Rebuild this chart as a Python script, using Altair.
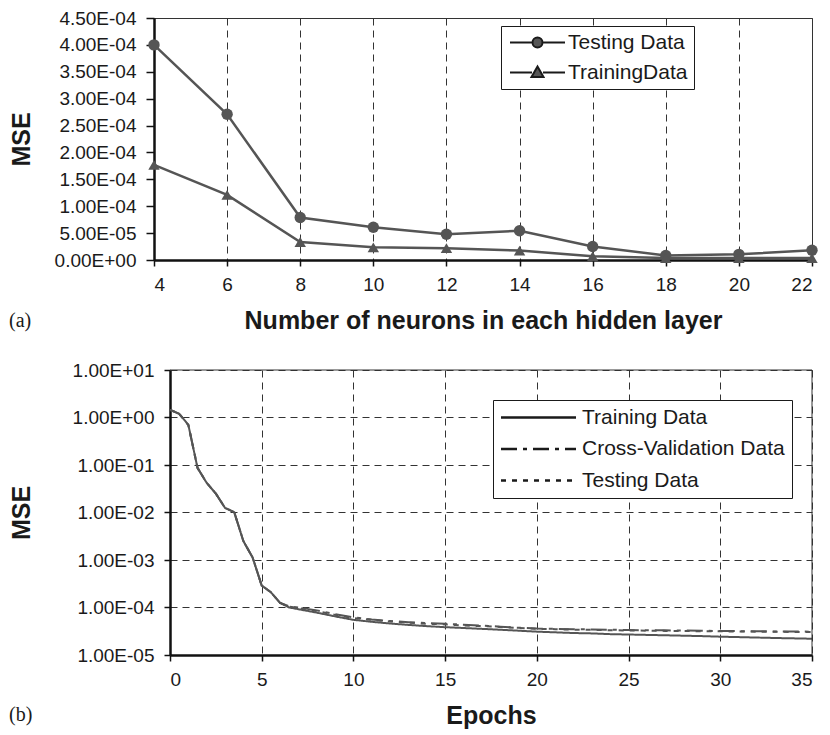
import altair as alt
import pandas as pd

FONT = "Liberation Sans"
LINE = "#555555"
INK = "#1a1a1a"

# ---------------- panel (a) data ----------------
neurons = [4, 6, 8, 10, 12, 14, 16, 18, 20, 22]
testing_mse = [4.0e-4, 2.71e-4, 7.9e-5, 6.1e-5, 4.8e-5, 5.45e-5, 2.5e-5, 8.5e-6, 1.05e-5, 1.8e-5]
training_mse = [1.77e-4, 1.21e-4, 3.35e-5, 2.35e-5, 2.2e-5, 1.75e-5, 7.0e-6, 3.7e-6, 3.5e-6, 3.5e-6]
top_series = ["Testing Data", "TrainingData"]
top_x_ticks = [4, 6, 8, 10, 12, 14, 16, 18, 20, 22]
top_y_ticks = [0, 5e-5, 1e-4, 1.5e-4, 2e-4, 2.5e-4, 3e-4, 3.5e-4, 4e-4, 4.5e-4]

# ---------------- panel (b) data ----------------
epochs = [0, 0.5, 1, 1.5, 2, 2.5, 3, 3.5, 4, 4.5, 5, 5.5, 6, 6.5, 7,
          8, 9, 10, 11, 12, 13, 14, 15, 16, 17, 18, 19, 20, 21, 22, 23, 24, 25,
          26, 27, 28, 29, 30, 31, 32, 33, 34, 35]
train_curve = [1.45, 1.2, 0.70, 0.087, 0.042, 0.025, 0.0125, 0.0102, 0.0025, 0.00114,
               2.9e-4, 2.1e-4, 1.25e-4, 1.0e-4, 9.2e-5,
               7.8e-5, 6.5e-5, 5.5e-5, 5.0e-5, 4.6e-5, 4.3e-5, 4.05e-5, 3.85e-5, 3.7e-5,
               3.55e-5, 3.4e-5, 3.25e-5, 3.1e-5, 3.0e-5, 2.9e-5, 2.85e-5, 2.75e-5, 2.7e-5,
               2.65e-5, 2.6e-5, 2.55e-5, 2.5e-5, 2.43e-5, 2.38e-5, 2.33e-5, 2.28e-5, 2.24e-5, 2.2e-5]
cv_curve = [1.45, 1.2, 0.70, 0.087, 0.042, 0.025, 0.0125, 0.0102, 0.0025, 0.00114,
            2.9e-4, 2.1e-4, 1.25e-4, 1.06e-4, 1.0e-4,
            8.7e-5, 7.2e-5, 6.2e-5, 5.6e-5, 5.2e-5, 4.9e-5, 4.7e-5, 4.55e-5, 4.35e-5,
            4.15e-5, 3.95e-5, 3.75e-5, 3.6e-5, 3.55e-5, 3.5e-5, 3.45e-5, 3.4e-5, 3.35e-5,
            3.32e-5, 3.3e-5, 3.27e-5, 3.24e-5, 3.2e-5, 3.18e-5, 3.16e-5, 3.14e-5, 3.12e-5, 3.1e-5]
test_curve = [1.45, 1.2, 0.70, 0.087, 0.042, 0.025, 0.0125, 0.0102, 0.0025, 0.00114,
              2.9e-4, 2.1e-4, 1.25e-4, 1.04e-4, 9.7e-5,
              8.4e-5, 7.0e-5, 6.0e-5, 5.5e-5, 5.1e-5, 4.8e-5, 4.55e-5, 4.4e-5, 4.2e-5,
              4.05e-5, 3.9e-5, 3.7e-5, 3.55e-5, 3.5e-5, 3.42e-5, 3.38e-5, 3.32e-5, 3.28e-5,
              3.25e-5, 3.22e-5, 3.2e-5, 3.17e-5, 3.15e-5, 3.13e-5, 3.1e-5, 3.08e-5, 3.06e-5, 3.05e-5]
bottom_series = ["Training Data", "Cross-Validation Data", "Testing Data"]
bottom_x_ticks = [0, 5, 10, 15, 20, 25, 30, 35]
bottom_y_ticks = [1e-5, 1e-4, 1e-3, 1e-2, 1e-1, 1e0, 1e1]

panel_labels = ["(a)", "(b)"]

# ---------------- tables ----------------
top_df = pd.DataFrame({
    "neurons": neurons * 2,
    "mse": testing_mse + training_mse,
    "series": [top_series[0]] * len(neurons) + [top_series[1]] * len(neurons),
})
bottom_df = pd.DataFrame({
    "epoch": epochs * 3,
    "mse": train_curve + cv_curve + test_curve,
    "series": sum([[s] * len(epochs) for s in bottom_series], []),
})

E = "floor(log(datum.value)/LN10 + 1e-9)"
SCI = (f"datum.value == 0 ? '0.00E+00' : format(datum.value / pow(10, {E}), '.2f') + 'E' + "
       f"({E} < 0 ? '-' : '+') + format(abs({E}), '02d')")

axis_common = dict(
    labelFont=FONT, labelFontSize=19, labelColor=INK,
    titleFont=FONT, titleFontSize=25, titleFontWeight="bold", titleColor=INK,
    domainColor="#111111", domainWidth=2.5, tickColor="#111111", tickWidth=1.5,
    gridColor="#333333", gridWidth=1, gridDash=[7, 5],
)

legend_common = dict(
    title=None, orient="none", direction="vertical", labelFont=FONT, labelFontSize=21,
    labelColor=INK, labelLimit=400, strokeColor=INK, fillColor="white",
    symbolSize=100, symbolOpacity=1,
)

W = 658

# ---------------- panel (a) ----------------
TOP_H = 242
xa = alt.X("neurons:Q", scale=alt.Scale(domain=[4, 22], nice=False, zero=False),
           axis=alt.Axis(values=top_x_ticks, title="Number of neurons in each hidden layer",
                         grid=True, tickSize=6, labelPadding=9, titlePadding=14, **axis_common))
ya = alt.Y("mse:Q", scale=alt.Scale(domain=[0, 4.5e-4], nice=False),
           axis=alt.Axis(values=top_y_ticks, labelExpr=SCI, grid=False, tickSize=8,
                         labelPadding=10, title="MSE", titleAngle=270, titleX=-132.5,
                         titleY=TOP_H / 2, titleAlign="center", titleBaseline="middle",
                         **axis_common))

circle_path = "M-5.5,0H-1M1,0H5.5M1,0A1,1,0,1,1,-1,0A1,1,0,1,1,1,0Z"
tri_path = "M-5.5,0H-1.1M1.1,0H5.5M0,-1.2L1.2,0.9L-1.2,0.9Z"

top_lines = alt.Chart(top_df).mark_line(color=LINE, strokeWidth=2.5).encode(
    x=xa, y=ya, detail="series:N")
top_points = alt.Chart(top_df).mark_point(filled=True, color=LINE, size=130, opacity=1).encode(
    x=xa, y=ya,
    shape=alt.Shape("series:N", scale=alt.Scale(domain=top_series, range=["circle", "triangle-up"]),
                    legend=None))
top_legend = alt.Chart(top_df).transform_filter("false").mark_point(
    filled=False, fill=LINE, stroke=INK, strokeWidth=2, opacity=1).encode(
    x=xa, y=ya,
    shape=alt.Shape("series:N", scale=alt.Scale(domain=top_series, range=[circle_path, tri_path]),
                    legend=alt.Legend(legendX=347, legendY=8, padding=6, rowPadding=8,
                                      symbolStrokeWidth=2, symbolOffset=20, labelOffset=20,
                                      **legend_common)))
top_tag = alt.Chart(pd.DataFrame({"t": [panel_labels[0]]})).mark_text(
    font="Liberation Serif", fontSize=20, align="left", baseline="middle", color=INK).encode(
    x=alt.value(-145), y=alt.value(303), text="t:N")

top = alt.layer(top_lines, top_points, top_legend, top_tag).resolve_scale(
    shape="independent").properties(width=W, height=TOP_H)

# ---------------- panel (b) ----------------
BOT_H = 285
SHIFT = 16
xb = alt.X("epoch:Q", scale=alt.Scale(domain=[0, 35], nice=False, zero=False, range=[SHIFT, W]),
           axis=alt.Axis(values=bottom_x_ticks, title="Epochs", grid=True, tickSize=6,
                         labelPadding=9, titlePadding=14, **axis_common))
yb = alt.Y("mse:Q", scale=alt.Scale(type="log", domain=[1e-5, 10], nice=False),
           axis=alt.Axis(values=bottom_y_ticks, labelExpr=SCI, grid=True, tickSize=6,
                         offset=-SHIFT, labelPadding=10, title="MSE", titleAngle=270,
                         titleX=-132.5 - SHIFT, titleY=BOT_H / 2, titleAlign="center",
                         titleBaseline="middle", **axis_common))

# legend glyph: a 75 px horizontal line, dashed per series by the strokeDash scale
line_path = "M-7.5,0H7.5"

bot_lines = alt.Chart(bottom_df).mark_line(color=LINE, strokeWidth=2).encode(
    x=xb, y=yb,
    strokeDash=alt.StrokeDash(
        "series:N",
        scale=alt.Scale(domain=bottom_series, range=[[1, 0], [16, 6, 4, 6], [5, 6]]),
        legend=alt.Legend(legendX=339, legendY=382, padding=7, rowPadding=9.5,
                          symbolType=line_path, symbolStrokeWidth=2.5,
                          symbolStrokeColor=INK, symbolOffset=28, labelOffset=33,
                          **legend_common)),
    order=alt.Order("epoch:Q"))
frame_top = alt.Chart(pd.DataFrame({"a": [0]})).mark_rule(color="#333333", strokeWidth=1).encode(
    x=alt.datum(bottom_x_ticks[0]), x2=alt.datum(bottom_x_ticks[-1]), y=alt.datum(bottom_y_ticks[-1]))
frame_right = alt.Chart(pd.DataFrame({"a": [0]})).mark_rule(color="#333333", strokeWidth=1).encode(
    x=alt.datum(bottom_x_ticks[-1]), y=alt.datum(bottom_y_ticks[0]), y2=alt.datum(bottom_y_ticks[-1]))
bot_tag = alt.Chart(pd.DataFrame({"t": [panel_labels[1]]})).mark_text(
    font="Liberation Serif", fontSize=20, align="left", baseline="middle", color=INK).encode(
    x=alt.value(-145), y=alt.value(345), text="t:N")

bottom = alt.layer(bot_lines, frame_top, frame_right, bot_tag).properties(
    width=W, height=BOT_H, view=alt.ViewBackground(stroke="transparent"))

chart = alt.vconcat(top, bottom, spacing=26).properties(
    padding={"left": 0, "top": 0, "right": 0, "bottom": 0}
).configure(background="white", font=FONT).configure_view(stroke="#333333", strokeWidth=1)

chart.save("out.html", embed_options={"renderer": "svg", "actions": False})
